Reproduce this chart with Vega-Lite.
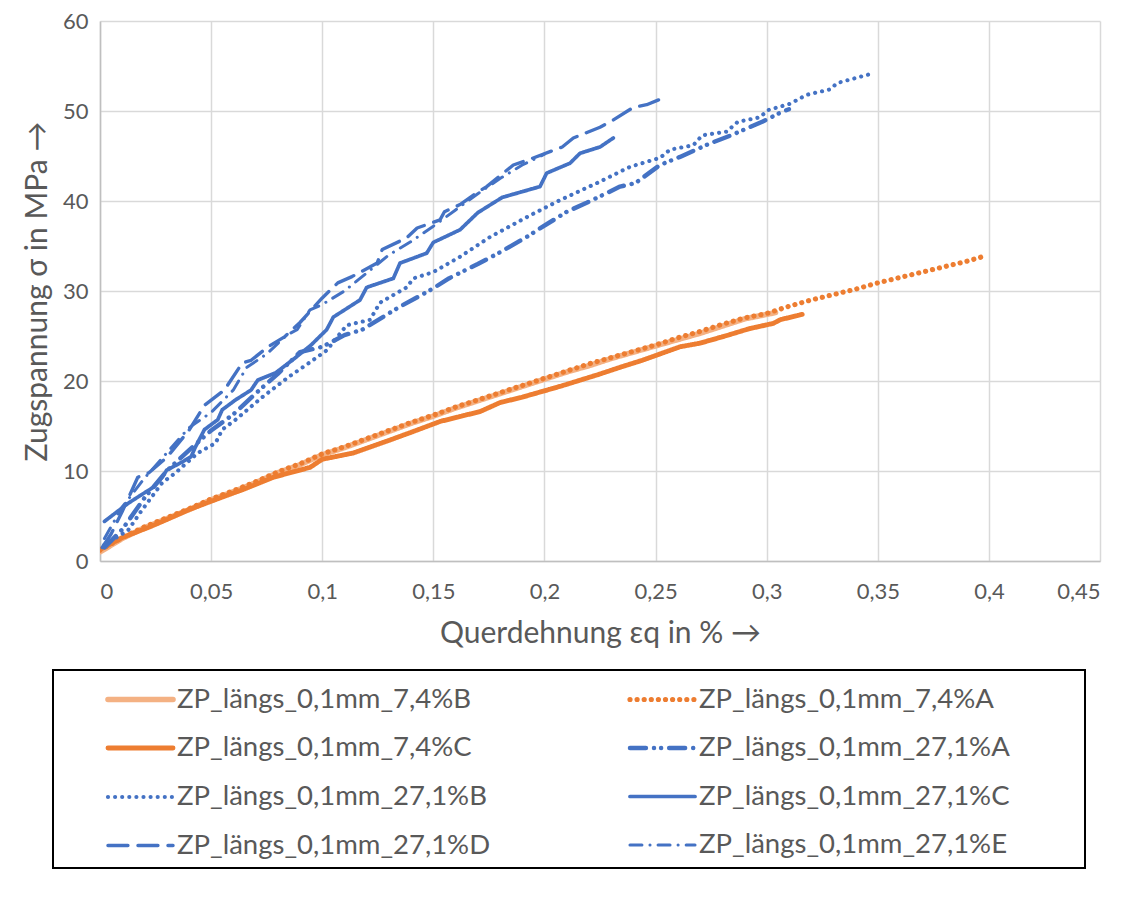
{
  "$schema": "https://vega.github.io/schema/vega-lite/v6.json",
  "width": 1000,
  "height": 540,
  "autosize": {"type": "none"},
  "padding": {"left": 100, "top": 21, "right": 28, "bottom": 338},
  "background": "white",
  "datasets": {
    "pts": [
      {"s":"ZP_längs_0,1mm_7,4%B","x":0,"y":1.0},{"s":"ZP_längs_0,1mm_7,4%B","x":0.004,"y":1.6},{"s":"ZP_längs_0,1mm_7,4%B","x":0.01,"y":2.5},{"s":"ZP_längs_0,1mm_7,4%B","x":0.02,"y":3.7},{"s":"ZP_längs_0,1mm_7,4%B","x":0.03,"y":4.7},{"s":"ZP_längs_0,1mm_7,4%B","x":0.04,"y":5.7},{"s":"ZP_längs_0,1mm_7,4%B","x":0.05,"y":6.8},{"s":"ZP_längs_0,1mm_7,4%B","x":0.06,"y":7.7},{"s":"ZP_längs_0,1mm_7,4%B","x":0.07,"y":8.7},{"s":"ZP_längs_0,1mm_7,4%B","x":0.08,"y":9.8},{"s":"ZP_längs_0,1mm_7,4%B","x":0.09,"y":10.7},{"s":"ZP_längs_0,1mm_7,4%B","x":0.1,"y":11.8},{"s":"ZP_längs_0,1mm_7,4%B","x":0.11,"y":12.6},{"s":"ZP_längs_0,1mm_7,4%B","x":0.12,"y":13.5},{"s":"ZP_längs_0,1mm_7,4%B","x":0.13,"y":14.4},{"s":"ZP_längs_0,1mm_7,4%B","x":0.14,"y":15.3},{"s":"ZP_längs_0,1mm_7,4%B","x":0.15,"y":16.1},{"s":"ZP_längs_0,1mm_7,4%B","x":0.16,"y":17.0},{"s":"ZP_längs_0,1mm_7,4%B","x":0.17,"y":17.8},{"s":"ZP_längs_0,1mm_7,4%B","x":0.18,"y":18.6},{"s":"ZP_längs_0,1mm_7,4%B","x":0.19,"y":19.4},{"s":"ZP_längs_0,1mm_7,4%B","x":0.2,"y":20.2},{"s":"ZP_längs_0,1mm_7,4%B","x":0.21,"y":21.0},{"s":"ZP_längs_0,1mm_7,4%B","x":0.22,"y":21.7},{"s":"ZP_längs_0,1mm_7,4%B","x":0.23,"y":22.5},{"s":"ZP_längs_0,1mm_7,4%B","x":0.24,"y":23.2},{"s":"ZP_längs_0,1mm_7,4%B","x":0.25,"y":23.9},{"s":"ZP_längs_0,1mm_7,4%B","x":0.26,"y":24.6},{"s":"ZP_längs_0,1mm_7,4%B","x":0.27,"y":25.3},{"s":"ZP_längs_0,1mm_7,4%B","x":0.28,"y":26.1},{"s":"ZP_längs_0,1mm_7,4%B","x":0.29,"y":26.9},{"s":"ZP_längs_0,1mm_7,4%B","x":0.3,"y":27.4},{"s":"ZP_längs_0,1mm_7,4%B","x":0.304,"y":27.6},

      {"s":"ZP_längs_0,1mm_7,4%A","x":0,"y":1.2},{"s":"ZP_längs_0,1mm_7,4%A","x":0.01,"y":2.6},{"s":"ZP_längs_0,1mm_7,4%A","x":0.02,"y":3.8},{"s":"ZP_längs_0,1mm_7,4%A","x":0.03,"y":4.8},{"s":"ZP_längs_0,1mm_7,4%A","x":0.04,"y":5.8},{"s":"ZP_längs_0,1mm_7,4%A","x":0.05,"y":6.9},{"s":"ZP_längs_0,1mm_7,4%A","x":0.06,"y":7.8},{"s":"ZP_längs_0,1mm_7,4%A","x":0.07,"y":8.8},{"s":"ZP_längs_0,1mm_7,4%A","x":0.08,"y":9.9},{"s":"ZP_längs_0,1mm_7,4%A","x":0.09,"y":10.8},{"s":"ZP_längs_0,1mm_7,4%A","x":0.1,"y":11.9},{"s":"ZP_längs_0,1mm_7,4%A","x":0.11,"y":12.7},{"s":"ZP_längs_0,1mm_7,4%A","x":0.12,"y":13.6},{"s":"ZP_längs_0,1mm_7,4%A","x":0.13,"y":14.5},{"s":"ZP_längs_0,1mm_7,4%A","x":0.14,"y":15.4},{"s":"ZP_längs_0,1mm_7,4%A","x":0.15,"y":16.2},{"s":"ZP_längs_0,1mm_7,4%A","x":0.16,"y":17.1},{"s":"ZP_längs_0,1mm_7,4%A","x":0.17,"y":17.9},{"s":"ZP_längs_0,1mm_7,4%A","x":0.18,"y":18.7},{"s":"ZP_längs_0,1mm_7,4%A","x":0.19,"y":19.5},{"s":"ZP_längs_0,1mm_7,4%A","x":0.2,"y":20.3},{"s":"ZP_längs_0,1mm_7,4%A","x":0.21,"y":21.1},{"s":"ZP_längs_0,1mm_7,4%A","x":0.22,"y":21.9},{"s":"ZP_längs_0,1mm_7,4%A","x":0.23,"y":22.6},{"s":"ZP_längs_0,1mm_7,4%A","x":0.24,"y":23.3},{"s":"ZP_längs_0,1mm_7,4%A","x":0.25,"y":24.0},{"s":"ZP_längs_0,1mm_7,4%A","x":0.26,"y":24.8},{"s":"ZP_längs_0,1mm_7,4%A","x":0.27,"y":25.5},{"s":"ZP_längs_0,1mm_7,4%A","x":0.28,"y":26.3},{"s":"ZP_längs_0,1mm_7,4%A","x":0.29,"y":27.0},{"s":"ZP_längs_0,1mm_7,4%A","x":0.3,"y":27.5},{"s":"ZP_längs_0,1mm_7,4%A","x":0.31,"y":28.3},{"s":"ZP_längs_0,1mm_7,4%A","x":0.32,"y":29.0},{"s":"ZP_längs_0,1mm_7,4%A","x":0.33,"y":29.6},{"s":"ZP_längs_0,1mm_7,4%A","x":0.34,"y":30.2},{"s":"ZP_längs_0,1mm_7,4%A","x":0.35,"y":30.9},{"s":"ZP_längs_0,1mm_7,4%A","x":0.36,"y":31.5},{"s":"ZP_längs_0,1mm_7,4%A","x":0.37,"y":32.1},{"s":"ZP_längs_0,1mm_7,4%A","x":0.38,"y":32.7},{"s":"ZP_längs_0,1mm_7,4%A","x":0.39,"y":33.3},{"s":"ZP_längs_0,1mm_7,4%A","x":0.397,"y":33.8},

      {"s":"ZP_längs_0,1mm_7,4%C","x":0.001,"y":1.4},{"s":"ZP_längs_0,1mm_7,4%C","x":0.01,"y":2.6},{"s":"ZP_längs_0,1mm_7,4%C","x":0.0225,"y":3.8},{"s":"ZP_längs_0,1mm_7,4%C","x":0.03,"y":4.6},{"s":"ZP_längs_0,1mm_7,4%C","x":0.04,"y":5.7},{"s":"ZP_längs_0,1mm_7,4%C","x":0.055,"y":7.1},{"s":"ZP_längs_0,1mm_7,4%C","x":0.065,"y":8.0},{"s":"ZP_längs_0,1mm_7,4%C","x":0.078,"y":9.3},{"s":"ZP_längs_0,1mm_7,4%C","x":0.0945,"y":10.4},{"s":"ZP_längs_0,1mm_7,4%C","x":0.1,"y":11.3},{"s":"ZP_längs_0,1mm_7,4%C","x":0.114,"y":12.0},{"s":"ZP_längs_0,1mm_7,4%C","x":0.13,"y":13.4},{"s":"ZP_längs_0,1mm_7,4%C","x":0.14,"y":14.3},{"s":"ZP_längs_0,1mm_7,4%C","x":0.153,"y":15.5},{"s":"ZP_längs_0,1mm_7,4%C","x":0.171,"y":16.6},{"s":"ZP_längs_0,1mm_7,4%C","x":0.18,"y":17.6},{"s":"ZP_längs_0,1mm_7,4%C","x":0.19,"y":18.2},{"s":"ZP_längs_0,1mm_7,4%C","x":0.207,"y":19.4},{"s":"ZP_längs_0,1mm_7,4%C","x":0.224,"y":20.7},{"s":"ZP_längs_0,1mm_7,4%C","x":0.235,"y":21.6},{"s":"ZP_längs_0,1mm_7,4%C","x":0.244,"y":22.3},{"s":"ZP_längs_0,1mm_7,4%C","x":0.261,"y":23.8},{"s":"ZP_längs_0,1mm_7,4%C","x":0.27,"y":24.2},{"s":"ZP_längs_0,1mm_7,4%C","x":0.28,"y":24.9},{"s":"ZP_längs_0,1mm_7,4%C","x":0.292,"y":25.8},{"s":"ZP_längs_0,1mm_7,4%C","x":0.303,"y":26.4},{"s":"ZP_längs_0,1mm_7,4%C","x":0.306,"y":26.8},{"s":"ZP_längs_0,1mm_7,4%C","x":0.316,"y":27.4},

      {"s":"ZP_längs_0,1mm_27,1%A","x":0.002,"y":1.5},{"s":"ZP_längs_0,1mm_27,1%A","x":0.01,"y":3.5},{"s":"ZP_längs_0,1mm_27,1%A","x":0.02,"y":7.0},{"s":"ZP_längs_0,1mm_27,1%A","x":0.03,"y":10.0},{"s":"ZP_längs_0,1mm_27,1%A","x":0.04,"y":12.3},{"s":"ZP_längs_0,1mm_27,1%A","x":0.05,"y":14.5},{"s":"ZP_längs_0,1mm_27,1%A","x":0.06,"y":16.3},{"s":"ZP_längs_0,1mm_27,1%A","x":0.07,"y":18.6},{"s":"ZP_längs_0,1mm_27,1%A","x":0.08,"y":20.8},{"s":"ZP_längs_0,1mm_27,1%A","x":0.09,"y":23.2},{"s":"ZP_längs_0,1mm_27,1%A","x":0.1,"y":23.8},{"s":"ZP_längs_0,1mm_27,1%A","x":0.11,"y":25.1},{"s":"ZP_längs_0,1mm_27,1%A","x":0.118,"y":25.7},{"s":"ZP_längs_0,1mm_27,1%A","x":0.1305,"y":27.6},{"s":"ZP_längs_0,1mm_27,1%A","x":0.136,"y":28.4},{"s":"ZP_längs_0,1mm_27,1%A","x":0.145,"y":29.6},{"s":"ZP_längs_0,1mm_27,1%A","x":0.15,"y":30.3},{"s":"ZP_längs_0,1mm_27,1%A","x":0.157,"y":31.4},{"s":"ZP_längs_0,1mm_27,1%A","x":0.17,"y":33.0},{"s":"ZP_längs_0,1mm_27,1%A","x":0.18,"y":34.3},{"s":"ZP_längs_0,1mm_27,1%A","x":0.192,"y":36.0},{"s":"ZP_längs_0,1mm_27,1%A","x":0.197,"y":36.8},{"s":"ZP_längs_0,1mm_27,1%A","x":0.21,"y":38.8},{"s":"ZP_längs_0,1mm_27,1%A","x":0.219,"y":39.8},{"s":"ZP_längs_0,1mm_27,1%A","x":0.234,"y":41.6},{"s":"ZP_längs_0,1mm_27,1%A","x":0.241,"y":42.0},{"s":"ZP_längs_0,1mm_27,1%A","x":0.252,"y":44.0},{"s":"ZP_längs_0,1mm_27,1%A","x":0.261,"y":44.9},{"s":"ZP_längs_0,1mm_27,1%A","x":0.2745,"y":46.4},{"s":"ZP_längs_0,1mm_27,1%A","x":0.284,"y":47.3},{"s":"ZP_längs_0,1mm_27,1%A","x":0.298,"y":48.8},{"s":"ZP_längs_0,1mm_27,1%A","x":0.306,"y":49.8},{"s":"ZP_längs_0,1mm_27,1%A","x":0.31,"y":50.2},

      {"s":"ZP_längs_0,1mm_27,1%B","x":0.002,"y":1.8},{"s":"ZP_längs_0,1mm_27,1%B","x":0.0126,"y":3.4},{"s":"ZP_längs_0,1mm_27,1%B","x":0.019,"y":5.7},{"s":"ZP_längs_0,1mm_27,1%B","x":0.028,"y":8.7},{"s":"ZP_längs_0,1mm_27,1%B","x":0.034,"y":9.8},{"s":"ZP_längs_0,1mm_27,1%B","x":0.044,"y":12.0},{"s":"ZP_längs_0,1mm_27,1%B","x":0.052,"y":13.1},{"s":"ZP_längs_0,1mm_27,1%B","x":0.055,"y":14.6},{"s":"ZP_längs_0,1mm_27,1%B","x":0.061,"y":15.7},{"s":"ZP_längs_0,1mm_27,1%B","x":0.073,"y":18.2},{"s":"ZP_längs_0,1mm_27,1%B","x":0.0846,"y":20.4},{"s":"ZP_längs_0,1mm_27,1%B","x":0.094,"y":22.0},{"s":"ZP_längs_0,1mm_27,1%B","x":0.102,"y":23.4},{"s":"ZP_längs_0,1mm_27,1%B","x":0.111,"y":26.2},{"s":"ZP_längs_0,1mm_27,1%B","x":0.1215,"y":26.8},{"s":"ZP_längs_0,1mm_27,1%B","x":0.126,"y":28.7},{"s":"ZP_längs_0,1mm_27,1%B","x":0.138,"y":30.4},{"s":"ZP_längs_0,1mm_27,1%B","x":0.141,"y":31.4},{"s":"ZP_längs_0,1mm_27,1%B","x":0.15,"y":32.1},{"s":"ZP_längs_0,1mm_27,1%B","x":0.162,"y":33.8},{"s":"ZP_längs_0,1mm_27,1%B","x":0.1755,"y":36.0},{"s":"ZP_längs_0,1mm_27,1%B","x":0.1935,"y":38.4},{"s":"ZP_längs_0,1mm_27,1%B","x":0.207,"y":40.1},{"s":"ZP_längs_0,1mm_27,1%B","x":0.2237,"y":42.0},{"s":"ZP_längs_0,1mm_27,1%B","x":0.2385,"y":43.8},{"s":"ZP_längs_0,1mm_27,1%B","x":0.252,"y":44.8},{"s":"ZP_längs_0,1mm_27,1%B","x":0.2565,"y":45.7},{"s":"ZP_längs_0,1mm_27,1%B","x":0.267,"y":46.2},{"s":"ZP_längs_0,1mm_27,1%B","x":0.271,"y":47.3},{"s":"ZP_längs_0,1mm_27,1%B","x":0.282,"y":47.7},{"s":"ZP_längs_0,1mm_27,1%B","x":0.287,"y":48.8},{"s":"ZP_längs_0,1mm_27,1%B","x":0.297,"y":49.3},{"s":"ZP_längs_0,1mm_27,1%B","x":0.3006,"y":50.1},{"s":"ZP_längs_0,1mm_27,1%B","x":0.3105,"y":50.8},{"s":"ZP_längs_0,1mm_27,1%B","x":0.318,"y":51.8},{"s":"ZP_längs_0,1mm_27,1%B","x":0.3285,"y":52.4},{"s":"ZP_längs_0,1mm_27,1%B","x":0.3317,"y":53.1},{"s":"ZP_längs_0,1mm_27,1%B","x":0.348,"y":54.2},

      {"s":"ZP_längs_0,1mm_27,1%C","x":0.002,"y":4.4},{"s":"ZP_längs_0,1mm_27,1%C","x":0.0126,"y":6.4},{"s":"ZP_längs_0,1mm_27,1%C","x":0.017,"y":7.1},{"s":"ZP_längs_0,1mm_27,1%C","x":0.024,"y":8.2},{"s":"ZP_längs_0,1mm_27,1%C","x":0.028,"y":9.3},{"s":"ZP_längs_0,1mm_27,1%C","x":0.03,"y":10.1},{"s":"ZP_längs_0,1mm_27,1%C","x":0.037,"y":11.0},{"s":"ZP_längs_0,1mm_27,1%C","x":0.041,"y":11.6},{"s":"ZP_längs_0,1mm_27,1%C","x":0.043,"y":12.7},{"s":"ZP_längs_0,1mm_27,1%C","x":0.047,"y":14.6},{"s":"ZP_längs_0,1mm_27,1%C","x":0.053,"y":15.7},{"s":"ZP_längs_0,1mm_27,1%C","x":0.055,"y":16.8},{"s":"ZP_längs_0,1mm_27,1%C","x":0.061,"y":17.9},{"s":"ZP_längs_0,1mm_27,1%C","x":0.068,"y":19.0},{"s":"ZP_längs_0,1mm_27,1%C","x":0.071,"y":20.1},{"s":"ZP_längs_0,1mm_27,1%C","x":0.079,"y":20.9},{"s":"ZP_längs_0,1mm_27,1%C","x":0.088,"y":22.6},{"s":"ZP_längs_0,1mm_27,1%C","x":0.095,"y":24.0},{"s":"ZP_längs_0,1mm_27,1%C","x":0.102,"y":25.7},{"s":"ZP_längs_0,1mm_27,1%C","x":0.105,"y":27.1},{"s":"ZP_längs_0,1mm_27,1%C","x":0.117,"y":29.0},{"s":"ZP_längs_0,1mm_27,1%C","x":0.12,"y":30.4},{"s":"ZP_längs_0,1mm_27,1%C","x":0.132,"y":31.4},{"s":"ZP_längs_0,1mm_27,1%C","x":0.135,"y":33.1},{"s":"ZP_längs_0,1mm_27,1%C","x":0.147,"y":34.2},{"s":"ZP_längs_0,1mm_27,1%C","x":0.15,"y":35.4},{"s":"ZP_längs_0,1mm_27,1%C","x":0.162,"y":36.8},{"s":"ZP_längs_0,1mm_27,1%C","x":0.17,"y":38.7},{"s":"ZP_längs_0,1mm_27,1%C","x":0.181,"y":40.4},{"s":"ZP_längs_0,1mm_27,1%C","x":0.198,"y":41.6},{"s":"ZP_längs_0,1mm_27,1%C","x":0.201,"y":43.1},{"s":"ZP_längs_0,1mm_27,1%C","x":0.2115,"y":44.2},{"s":"ZP_längs_0,1mm_27,1%C","x":0.216,"y":45.3},{"s":"ZP_längs_0,1mm_27,1%C","x":0.225,"y":46.0},{"s":"ZP_längs_0,1mm_27,1%C","x":0.231,"y":47.0},

      {"s":"ZP_längs_0,1mm_27,1%D","x":0.001,"y":1.5},{"s":"ZP_längs_0,1mm_27,1%D","x":0.005,"y":3.0},{"s":"ZP_längs_0,1mm_27,1%D","x":0.01,"y":5.5},{"s":"ZP_längs_0,1mm_27,1%D","x":0.017,"y":9.3},{"s":"ZP_längs_0,1mm_27,1%D","x":0.022,"y":9.8},{"s":"ZP_längs_0,1mm_27,1%D","x":0.03,"y":11.5},{"s":"ZP_längs_0,1mm_27,1%D","x":0.04,"y":14.5},{"s":"ZP_längs_0,1mm_27,1%D","x":0.047,"y":17.3},{"s":"ZP_längs_0,1mm_27,1%D","x":0.056,"y":19.0},{"s":"ZP_längs_0,1mm_27,1%D","x":0.064,"y":22.0},{"s":"ZP_längs_0,1mm_27,1%D","x":0.068,"y":22.3},{"s":"ZP_längs_0,1mm_27,1%D","x":0.0756,"y":23.8},{"s":"ZP_längs_0,1mm_27,1%D","x":0.083,"y":24.9},{"s":"ZP_längs_0,1mm_27,1%D","x":0.09,"y":26.5},{"s":"ZP_längs_0,1mm_27,1%D","x":0.0999,"y":29.2},{"s":"ZP_längs_0,1mm_27,1%D","x":0.107,"y":30.9},{"s":"ZP_längs_0,1mm_27,1%D","x":0.1134,"y":31.6},{"s":"ZP_längs_0,1mm_27,1%D","x":0.1247,"y":33.1},{"s":"ZP_längs_0,1mm_27,1%D","x":0.127,"y":34.6},{"s":"ZP_längs_0,1mm_27,1%D","x":0.138,"y":35.9},{"s":"ZP_längs_0,1mm_27,1%D","x":0.1427,"y":37.0},{"s":"ZP_längs_0,1mm_27,1%D","x":0.153,"y":37.9},{"s":"ZP_längs_0,1mm_27,1%D","x":0.155,"y":38.8},{"s":"ZP_längs_0,1mm_27,1%D","x":0.162,"y":39.6},{"s":"ZP_längs_0,1mm_27,1%D","x":0.17,"y":41.0},{"s":"ZP_längs_0,1mm_27,1%D","x":0.174,"y":41.6},{"s":"ZP_längs_0,1mm_27,1%D","x":0.186,"y":44.0},{"s":"ZP_längs_0,1mm_27,1%D","x":0.193,"y":44.6},{"s":"ZP_längs_0,1mm_27,1%D","x":0.208,"y":46.0},{"s":"ZP_längs_0,1mm_27,1%D","x":0.213,"y":47.0},{"s":"ZP_längs_0,1mm_27,1%D","x":0.225,"y":48.2},{"s":"ZP_längs_0,1mm_27,1%D","x":0.231,"y":49.0},{"s":"ZP_längs_0,1mm_27,1%D","x":0.24,"y":50.4},{"s":"ZP_längs_0,1mm_27,1%D","x":0.246,"y":50.7},{"s":"ZP_längs_0,1mm_27,1%D","x":0.252,"y":51.3},

      {"s":"ZP_längs_0,1mm_27,1%E","x":0.002,"y":2.5},{"s":"ZP_längs_0,1mm_27,1%E","x":0.01,"y":6.0},{"s":"ZP_längs_0,1mm_27,1%E","x":0.02,"y":9.2},{"s":"ZP_längs_0,1mm_27,1%E","x":0.03,"y":12.0},{"s":"ZP_längs_0,1mm_27,1%E","x":0.04,"y":14.8},{"s":"ZP_längs_0,1mm_27,1%E","x":0.05,"y":16.5},{"s":"ZP_längs_0,1mm_27,1%E","x":0.06,"y":19.0},{"s":"ZP_längs_0,1mm_27,1%E","x":0.066,"y":21.5},{"s":"ZP_längs_0,1mm_27,1%E","x":0.075,"y":23.0},{"s":"ZP_längs_0,1mm_27,1%E","x":0.084,"y":25.1},{"s":"ZP_längs_0,1mm_27,1%E","x":0.0887,"y":25.7},{"s":"ZP_längs_0,1mm_27,1%E","x":0.0945,"y":27.9},{"s":"ZP_längs_0,1mm_27,1%E","x":0.1,"y":28.5},{"s":"ZP_längs_0,1mm_27,1%E","x":0.11,"y":30.0},{"s":"ZP_längs_0,1mm_27,1%E","x":0.12,"y":32.0},{"s":"ZP_längs_0,1mm_27,1%E","x":0.13,"y":34.0},{"s":"ZP_längs_0,1mm_27,1%E","x":0.14,"y":35.5},{"s":"ZP_längs_0,1mm_27,1%E","x":0.15,"y":37.2},{"s":"ZP_längs_0,1mm_27,1%E","x":0.16,"y":39.0},{"s":"ZP_längs_0,1mm_27,1%E","x":0.17,"y":40.8},{"s":"ZP_längs_0,1mm_27,1%E","x":0.18,"y":42.5},{"s":"ZP_längs_0,1mm_27,1%E","x":0.19,"y":44.0},{"s":"ZP_längs_0,1mm_27,1%E","x":0.2,"y":45.2}
    ]
  },
  "data": {"name": "pts"},
  "mark": {"type": "line", "strokeCap": "round", "strokeJoin": "round", "clip": true},
  "encoding": {
    "x": {
      "field": "x", "type": "quantitative",
      "scale": {"domain": [0, 0.45], "nice": false, "zero": false},
      "axis": {
        "values": [0, 0.05, 0.1, 0.15, 0.2, 0.25, 0.3, 0.35, 0.4, 0.45],
        "labelExpr": "replace(format(datum.value, '.2~f'), '.', ',')",
        "labelPadding": 20,
        "title": "Querdehnung  εq in %   →",
        "titlePadding": 16
      }
    },
    "y": {
      "field": "y", "type": "quantitative",
      "scale": {"domain": [0, 60], "nice": false},
      "axis": {
        "values": [0, 10, 20, 30, 40, 50, 60],
        "labelPadding": 12,
        "title": "Zugspannung σ in MPa   →",
        "titlePadding": 10
      }
    },
    "color": {
      "field": "s", "type": "nominal",
      "scale": {
        "domain": ["ZP_längs_0,1mm_7,4%B","ZP_längs_0,1mm_7,4%A","ZP_längs_0,1mm_7,4%C","ZP_längs_0,1mm_27,1%A","ZP_längs_0,1mm_27,1%B","ZP_längs_0,1mm_27,1%C","ZP_längs_0,1mm_27,1%D","ZP_längs_0,1mm_27,1%E"],
        "range": ["#F4B183","#ED7D31","#ED7D31","#4472C4","#4472C4","#4472C4","#4472C4","#4472C4"]
      },
      "legend": {
        "title": "\u00a0",
        "titleOrient": "right",
        "titlePadding": 66,
        "titleFontSize": 10,
        "orient": "none",
        "direction": "horizontal",
        "legendX": -47,
        "legendY": 649,
        "columns": 2,
        "columnPadding": 93,
        "rowPadding": 15,
        "padding": 9,
        "strokeColor": "black",
        "symbolType": "M-1.86,0H1.86",
        "symbolSize": 1225,
        "symbolOffset": 58,
        "labelOffset": 16,
        "labelFont": "Lato",
        "labelFontSize": 27.5,
        "labelColor": "#595959",
        "labelLimit": 500,
        "encode": {
          "symbols": {"update": {"strokeCap": {"value": "round"}, "fill": {"value": "transparent"}}},
          "legend": {"update": {"strokeWidth": {"value": 2}}}
        }
      }
    },
    "strokeDash": {
      "field": "s", "type": "nominal",
      "scale": {
        "domain": ["ZP_längs_0,1mm_7,4%B","ZP_längs_0,1mm_7,4%A","ZP_längs_0,1mm_7,4%C","ZP_längs_0,1mm_27,1%A","ZP_längs_0,1mm_27,1%B","ZP_längs_0,1mm_27,1%C","ZP_längs_0,1mm_27,1%D","ZP_längs_0,1mm_27,1%E"],
        "range": [[1,0],[0.1,7],[1,0],[16,8,0.1,7,0.1,8],[0.1,7],[1,0],[20,10],[12,8,0.1,8]]
      }
    },
    "strokeWidth": {
      "field": "s", "type": "nominal",
      "scale": {
        "domain": ["ZP_längs_0,1mm_7,4%B","ZP_längs_0,1mm_7,4%A","ZP_längs_0,1mm_7,4%C","ZP_längs_0,1mm_27,1%A","ZP_längs_0,1mm_27,1%B","ZP_längs_0,1mm_27,1%C","ZP_längs_0,1mm_27,1%D","ZP_längs_0,1mm_27,1%E"],
        "range": [5.5, 3, 3, 3.5, 3, 3.5, 3.5, 3.5]
      }
    }
  },
  "config": {
    "font": "Lato",
    "view": {"stroke": null},
    "axis": {
      "labelFont": "Lato",
      "labelFontSize": 22,
      "labelColor": "#595959",
      "titleFont": "Lato",
      "titleFontSize": 30,
      "titleFontWeight": "normal",
      "titleColor": "#595959",
      "gridColor": "#d9d9d9",
      "gridWidth": 1.5,
      "domainColor": "#bfbfbf",
      "domainWidth": 1.5,
      "ticks": false
    }
  }
}
